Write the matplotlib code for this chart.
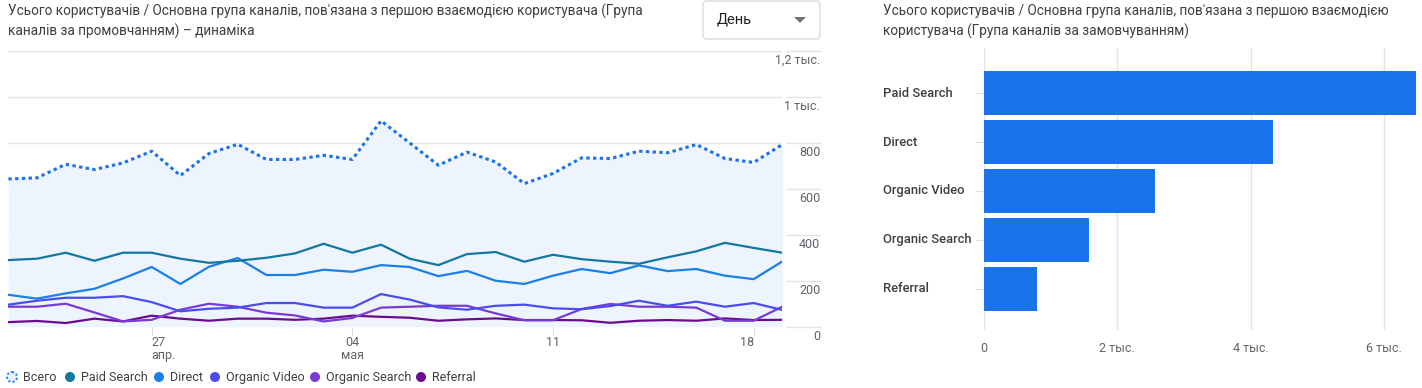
import numpy as np
import pandas as pd
import matplotlib
matplotlib.use("Agg")
import matplotlib.pyplot as plt
import matplotlib.transforms as mtransforms
from matplotlib.patches import FancyBboxPatch, Circle, Polygon

plt.rcParams['font.family'] = ['Roboto', 'DejaVu Sans']

# Дані
days = pd.date_range("2024-04-22", "2024-05-19", freq="D")
total = [643, 648, 707, 684, 713, 764, 658, 754, 794, 728, 728, 746, 728, 896,
         800, 703, 760, 717, 623, 667, 735, 732, 764, 757, 793, 732, 715, 793]
paid_search = [290, 296, 322, 287, 322, 322, 296, 278, 287, 300, 319, 361, 322, 357,
               296, 268, 316, 325, 283, 313, 294, 283, 274, 302, 328, 365, 343, 322]
direct = [139, 122, 145, 165, 210, 260, 186, 261, 299, 225, 225, 248, 239, 268,
          260, 220, 243, 200, 186, 222, 251, 233, 267, 242, 251, 222, 207, 284]
organic_video = [96, 113, 126, 126, 133, 107, 67, 78, 83, 103, 103, 83, 83, 142,
                 118, 84, 74, 91, 96, 80, 76, 90, 113, 91, 109, 87, 103, 73]
organic_search = [87, 87, 100, 62, 23, 30, 74, 100, 87, 61, 49, 23, 38, 83,
                  87, 91, 91, 58, 28, 28, 77, 99, 87, 87, 83, 26, 26, 87]
referral = [20, 25, 16, 35, 23, 48, 35, 26, 35, 35, 30, 35, 48, 43,
            39, 26, 32, 36, 29, 29, 28, 17, 26, 29, 26, 36, 29, 30]

y_ticks = [0, 200, 400, 600, 800, 1000, 1200]
y_labels = ["0", "200", "400", "600", "800", "1 тыс.", "1,2 тыс."]
x_tick_days = ["2024-04-27", "2024-05-04", "2024-05-11", "2024-05-18"]
x_tick_labels = ["27\nапр.", "04\nмая", "11", "18"]

channels = ["Paid Search", "Direct", "Organic Video", "Organic Search", "Referral"]
channel_totals = [6800, 4330, 2570, 1570, 800]
bar_ticks = [0, 2000, 4000, 6000]
bar_tick_labels = ["0", "2 тыс.", "4 тыс.", "6 тыс."]

legend_names = ["Всего", "Paid Search", "Direct", "Organic Video", "Organic Search", "Referral"]

c_total = "#1a73e8"
colors = ["#12789f", "#1a7fe6", "#4c4cec", "#7a3bd3", "#6b0c8f"]
grid_c = "#e3e3e3"
text_c = "#3c4043"
tick_c = "#5f6368"

W, H = 1422, 388
fig = plt.figure(figsize=(W / 100, H / 100), dpi=100)


def px_axes(x0, y_top, x1, y_bot):
    return fig.add_axes([x0 / W, 1 - y_bot / H, (x1 - x0) / W, (y_bot - y_top) / H])


# оверлей для тексту, легенди та кнопки
ov = fig.add_axes([0, 0, 1, 1])
ov.set_xlim(0, W)
ov.set_ylim(H, 0)
ov.axis("off")

title_fs = 9.8
ov.text(8, 11, "Усього користувачів / Основна група каналів, пов'язана з першою взаємодією користувача (Група",
        fontsize=title_fs, color=text_c, va="center")
ov.text(8, 31, "каналів за промовчанням) – динаміка", fontsize=title_fs, color=text_c, va="center")
ov.text(883, 11, "Усього користувачів / Основна група каналів, пов'язана з першою взаємодією",
        fontsize=title_fs, color=text_c, va="center")
ov.text(883, 31, "користувача (Група каналів за замовчуванням)", fontsize=title_fs, color=text_c, va="center")

ov.add_patch(FancyBboxPatch((703, 1), 117, 38, boxstyle="round,pad=0,rounding_size=4",
                            fc="white", ec="#dadce0", lw=1))
ov.text(717, 20, "День", fontsize=10.5, color="#202124", va="center")
ov.add_patch(Polygon([[794, 17], [806, 17], [800, 23]], closed=True, fc="#757575", ec="none"))

# легенда
leg_x = [12, 70, 159, 215, 315, 421]
for i, name in enumerate(legend_names):
    if i == 0:
        ov.add_patch(Circle((leg_x[i], 377), 5, fc="#e8f0fe", ec=c_total, lw=1.3, ls=(0, (1.2, 1.2))))
    else:
        ov.add_patch(Circle((leg_x[i], 377), 5, fc=colors[i - 1], ec="none"))
    ov.text(leg_x[i] + 11, 377.5, name, fontsize=9, color=text_c, va="center")

# лінійний графік
ax = px_axes(8.4, 51, 782.3, 326.7)
ax.fill_between(days, total, 0, color="#edf4fd", lw=0)
for series, col in zip([referral, organic_search, organic_video, direct, paid_search], colors[::-1]):
    ax.plot(days, series, color=col, lw=1.6)
ax.plot(days, total, color=c_total, lw=2.2, ls=(0, (1.1, 1.1)))
ax.set_xlim(days[0], days[-1])
ax.set_ylim(0, 1200)
ax.set_yticks(y_ticks)
ax.grid(axis="y", color=grid_c, lw=1)
ax.set_axisbelow(True)
ax.tick_params(axis="y", left=False, labelleft=False)
for s in ax.spines.values():
    s.set_visible(False)

ax.set_xticks(pd.to_datetime(x_tick_days))
ax.set_xticklabels(x_tick_labels, fontsize=9, color=tick_c, linespacing=0.95)
ax.tick_params(axis="x", length=6, color="#dadce0", pad=1)
for lab, ha in zip(ax.get_xticklabels(), ["left", "center", "center", "right"]):
    lab.set_ha(ha)

bt = mtransforms.blended_transform_factory(ax.transAxes, ax.transData)
lab_t = mtransforms.offset_copy(bt, fig=fig, y=-3, units="dots")
for v, lab in zip(y_ticks, y_labels):
    ax.plot([1.0065, 1.049], [v, v], transform=bt, color=grid_c, lw=1, clip_on=False)
    ax.text(1.049, v, lab, transform=lab_t, ha="right", va="top", fontsize=9, color=tick_c)

# стовпчиковий графік
bx = px_axes(984, 48, 1416, 330)
ypos = np.arange(len(channels))
bx.barh(ypos, channel_totals, height=0.9, color=c_total)
bx.set_xlim(0, 6480)
bx.set_ylim(4.84, -0.92)
bx.set_xticks(bar_ticks)
bx.set_xticklabels(bar_tick_labels, fontsize=9, color=tick_c)
bx.tick_params(axis="x", length=0, pad=9)
bx.grid(axis="x", color=grid_c, lw=1)
bx.set_axisbelow(True)
bx.set_yticks(ypos)
bx.set_yticklabels([])
bx.tick_params(axis="y", length=6, color="#dadce0")
for s in bx.spines.values():
    s.set_visible(False)
bty = mtransforms.blended_transform_factory(bx.transAxes, bx.transData)
for y, name in zip(ypos, channels):
    bx.text((883 - 984) / 432, y, name, transform=bty, ha="left", va="center",
            fontsize=9.4, fontweight="medium", color=text_c)

fig.savefig("out.png", dpi=100)
